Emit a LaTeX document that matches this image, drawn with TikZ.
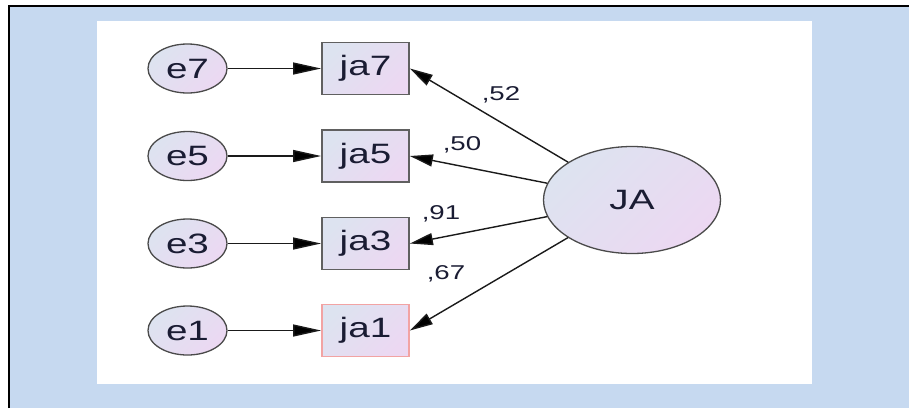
\documentclass[tikz,border=0pt]{standalone}
\usepackage{fontspec}
\setmainfont{Liberation Sans}
\usepackage{graphicx}
\usetikzlibrary{arrows.meta,shapes.geometric}

\definecolor{framebg}{HTML}{C6D9F0}
\definecolor{gradA}{HTML}{DDE3F0}
\definecolor{gradB}{HTML}{ECD8F2}
\definecolor{shapeline}{HTML}{4A4A4A}
\definecolor{boxline}{HTML}{606060}
\definecolor{pinkline}{HTML}{F2A3A3}
\definecolor{arrowcol}{HTML}{1A1A1A}
\definecolor{txtcol}{HTML}{1A1C33}

% text is drawn slightly wider than its natural shape
\newcommand{\widetxt}[1]{\scalebox{1.38}[1]{#1}}

\begin{document}
\begin{tikzpicture}[x=1pt,y=-1pt,
  gradfill/.style={top color=gradA, bottom color=gradB, shading angle=45},
  latent/.style={ellipse, draw=shapeline, line width=1.3pt, gradfill, inner sep=0pt,
    text=txtcol, font=\fontsize{28}{30}\selectfont},
  errnode/.style={latent, minimum width=79pt, minimum height=49pt},
  factor/.style={latent, minimum width=177pt, minimum height=107pt},
  obsbox/.style={rectangle, draw=boxline, line width=1.8pt, gradfill, inner sep=0pt,
    minimum width=87pt, minimum height=52pt, text=txtcol, font=\fontsize{28}{30}\selectfont},
  arr/.style={draw=arrowcol, line width=1.4pt, -{Triangle[length=28pt,width=12pt,fill=black]}},
  darr/.style={draw=arrowcol, line width=1.4pt, -{Triangle[length=23pt,width=12pt,fill=black]}},
  coef/.style={text=txtcol, font=\fontsize{20}{22}\selectfont, inner sep=0pt}
]
\useasboundingbox (0,0) rectangle (909,408);
\fill[white] (0,0) rectangle (909,408);

% framed panel
\fill[framebg] (9,6) rectangle (909,408);
\draw[black, line width=2pt] (9,408) -- (9,6) -- (909,6);
\fill[white] (97,21) rectangle (812,384);

% indicators
\node[obsbox] (ja7) at (365.5,68.5) {\widetxt{ja7}};
\node[obsbox] (ja5) at (365.5,156) {\widetxt{ja5}};
\node[obsbox] (ja3) at (365.5,243.5) {\widetxt{ja3}};
\node[obsbox, draw=pinkline] (ja1) at (365.5,330.5) {\widetxt{ja1}};

% error terms
\node[errnode] (e7) at (187.5,68.5) {\widetxt{e7}};
\node[errnode] (e5) at (187.5,156) {\widetxt{e5}};
\node[errnode] (e3) at (187.5,243.5) {\widetxt{e3}};
\node[errnode] (e1) at (187.5,330.5) {\widetxt{e1}};

% latent factor
\node[factor] (JA) at (632,200) {\widetxt{JA}};

% error paths
\draw[arr] (e7) -- (ja7);
\draw[arr] (e5) -- (ja5);
\draw[arr] (e3) -- (ja3);
\draw[arr] (e1) -- (ja1);

% loadings
\draw[darr] (JA) -- (ja7.east);
\draw[darr] (JA) -- (ja5.east);
\draw[darr] (JA) -- (ja3.east);
\draw[darr] (JA) -- (ja1.east);

\node[coef] (l7) at (501,95) {\widetxt{,52}};
\node[coef] (l5) at (462,145) {\widetxt{,50}};
\node[coef] (l3) at (441,214) {\widetxt{,91}};
\node[coef] (l1) at (446,274) {\widetxt{,67}};
\end{tikzpicture}
\end{document}
